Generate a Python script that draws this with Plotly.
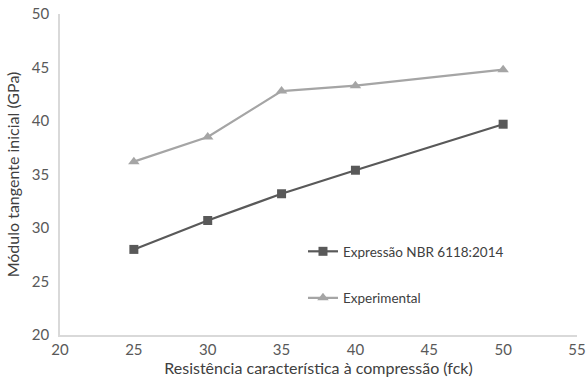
import plotly.graph_objects as go

fck = [25, 30, 35, 40, 50]
nbr_6118 = [28.0, 30.7, 33.2, 35.4, 39.7]
experimental = [36.2, 38.5, 42.8, 43.3, 44.8]

FONT = "Lato"
TICK_COLOR = "#595959"
AXIS_COLOR = "#d9d9d9"

fig = go.Figure()

fig.add_trace(go.Scatter(
    x=fck, y=nbr_6118, mode="lines+markers",
    name="Expressão NBR 6118:2014",
    line=dict(color="#595959", width=2.2),
    marker=dict(symbol="square", size=9, color="#595959"),
    legend="legend", showlegend=True,
))

fig.add_trace(go.Scatter(
    x=fck, y=experimental, mode="lines+markers",
    name="Experimental",
    line=dict(color="#a5a5a5", width=2.2),
    marker=dict(symbol="triangle-up", size=10, color="#a5a5a5"),
    legend="legend2", showlegend=True,
))

legend_style = dict(
    xanchor="left", yanchor="middle",
    bgcolor="rgba(0,0,0,0)",
    font=dict(family=FONT, size=13.5, color="#404040"),
    itemwidth=30,
)

fig.update_layout(
    width=587, height=385,
    margin=dict(l=60, r=10, t=14, b=50, autoexpand=False),
    paper_bgcolor="white", plot_bgcolor="white",
    font=dict(family=FONT, color=TICK_COLOR),
    showlegend=True,
    legend=dict(x=0.47, y=0.26, **legend_style),
    legend2=dict(x=0.47, y=0.115, **legend_style),
    xaxis=dict(
        range=[20, 55], dtick=5, tick0=20,
        showgrid=False, zeroline=False,
        showline=True, linecolor=AXIS_COLOR, linewidth=1.5,
        ticks="", tickfont=dict(family=FONT, size=15, color=TICK_COLOR),
        title=dict(text="Resistência característica à compressão (fck)",
                   font=dict(family=FONT, size=16, color="#404040"), standoff=4),
    ),
    yaxis=dict(
        range=[20, 50], dtick=5, tick0=20,
        showgrid=False, zeroline=False,
        showline=True, linecolor=AXIS_COLOR, linewidth=1.5,
        ticks="", ticklabelstandoff=6,
        tickfont=dict(family=FONT, size=15, color=TICK_COLOR),
        title=dict(text="Módulo tangente inicial (GPa)",
                   font=dict(family=FONT, size=16, color="#404040"), standoff=8),
    ),
)

fig.write_html("out.html")
